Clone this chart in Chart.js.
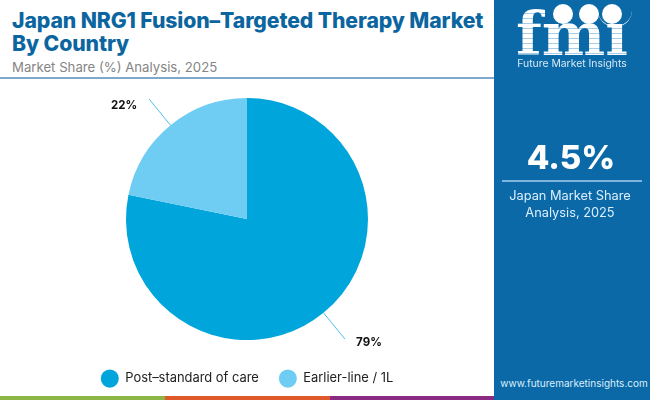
<!DOCTYPE html>
<html>
<head>
<meta charset="utf-8">
<title>Japan NRG1 Fusion–Targeted Therapy Market</title>
<script src="https://cdn.jsdelivr.net/npm/chart.js@4"></script>
<style>
  html, body { margin: 0; padding: 0; background: #fff; }
  body { width: 650px; height: 400px; position: relative; overflow: hidden; font-family: Inter, "Open Sans", sans-serif; }
  div { position: absolute; }
  #title { left: 12px; top: 9px; width: 480px; color: #0b659f; font-size: 21.2px; line-height: 23px; font-weight: 800; white-space: nowrap; letter-spacing: -0.1px; }
  #sub { left: 12px; top: 57px; color: #858585; font-size: 13.2px; line-height: 20px; white-space: nowrap; }
  #rule { left: 0; top: 77px; width: 494px; height: 2px; background: #7fa8cc; }
  #wrap { left: 0; top: 86px; width: 494px; height: 309px; }
  #side { left: 494px; top: 0; width: 156px; height: 400px; background: #0a69a6; color: #fff; }
  #fmi { left: 22px; top: -6px; width: 112px; text-align: center; font: 700 60px/80px "DejaVu Serif", serif;
         background: repeating-linear-gradient(180deg, #fff 0 4px, #a9cde6 4px 5px); -webkit-background-clip: text; background-clip: text; color: transparent; }
  .dot { width: 20px; height: 20px; top: 4px; border-radius: 50%; background: #fff; }
  #arc { left: 104px; top: -6px; width: 34px; height: 32px; border-radius: 50%; border-bottom: 1px solid #fff; }
  #brand { left: 0; width: 156px; top: 57px; text-align: center; font-size: 10.4px; line-height: 14px; color: #d6e9f6; }
  #big { left: -1px; width: 156px; top: 135px; text-align: center; font-size: 33px; line-height: 44px; font-weight: 800; }
  #siderule { left: 8px; width: 140px; top: 180px; height: 2px; background: #7db4e0; }
  #sidetxt { left: -2px; width: 156px; top: 187px; text-align: center; font-size: 12.8px; line-height: 17px; color: #dcefff; }
  #url { left: 2px; width: 156px; top: 376px; text-align: center; font-size: 10px; line-height: 14px; color: #dcefff; }
  .strip { top: 396px; height: 4px; width: 165px; }
</style>
</head>
<body>
<div id="title">Japan NRG1 Fusion–Targeted Therapy Market<br>By Country</div>
<div id="sub">Market Share (%) Analysis, 2025</div>
<div id="rule"></div>
<div class="strip" style="left:0;background:#8bb545"></div>
<div class="strip" style="left:165px;background:#e0592a"></div>
<div class="strip" style="left:330px;width:164px;background:#8a2a82"></div>
<div id="wrap"><canvas id="pie" width="494" height="309"></canvas></div>
<div id="side">
  <div id="fmi">fmı</div>
  <div class="dot" style="left:59px"></div>
  <div class="dot" style="left:85px"></div>
  <div class="dot" style="left:108px"></div>
  <div id="arc"></div>
  <div id="brand">Future Market Insights</div>
  <div id="big">4.5%</div>
  <div id="siderule"></div>
  <div id="sidetxt">Japan Market Share<br>Analysis, 2025</div>
  <div id="url">www.futuremarketinsights.com</div>
</div>
<script>
var categories = ['Post–standard of care', 'Earlier-line / 1L'];
var shares = [79, 22];
var colors = ['#00a5dc', '#6fcdf3'];

// leader lines and percentage labels, taken from the arcs themselves
var leaders = {
  id: 'leaders',
  afterDatasetsDraw: function (chart) {
    var ctx = chart.ctx;
    chart.getDatasetMeta(0).data.forEach(function (arc, i) {
      var mid = (arc.startAngle + arc.endAngle) / 2;
      var cos = Math.cos(mid), sin = Math.sin(mid);
      var x0 = arc.x + arc.outerRadius * cos, y0 = arc.y + arc.outerRadius * sin;
      var x1 = x0 + 34 * cos, y1 = y0 + 34 * sin;
      ctx.save();
      ctx.strokeStyle = colors[0];
      ctx.lineWidth = 0.7;
      ctx.beginPath();
      ctx.moveTo(x0, y0);
      ctx.lineTo(x1, y1);
      ctx.stroke();
      ctx.fillStyle = '#111';
      ctx.font = '700 11.5px Inter, sans-serif';
      ctx.textAlign = 'center';
      ctx.textBaseline = 'middle';
      ctx.fillText(shares[i] + '%', x1 + (cos < 0 ? -25 : 24), y1 + (cos < 0 ? 7 : 3));
      ctx.restore();
    });
  }
};

new Chart(document.getElementById('pie'), {
  type: 'pie',
  data: {
    labels: categories,
    datasets: [{ data: shares, backgroundColor: colors, borderWidth: 0, radius: 121 }]
  },
  options: {
    responsive: false,
    animation: false,
    plugins: {
      tooltip: { enabled: false },
      legend: {
        position: 'bottom',
        onClick: null,
        labels: {
          usePointStyle: true,
          pointStyle: 'circle',
          pointStyleWidth: 18,
          padding: 20,
          color: '#222',
          font: { family: 'Inter, sans-serif', size: 12.9 }
        }
      }
    }
  },
  plugins: [leaders]
});
</script>
</body>
</html>
